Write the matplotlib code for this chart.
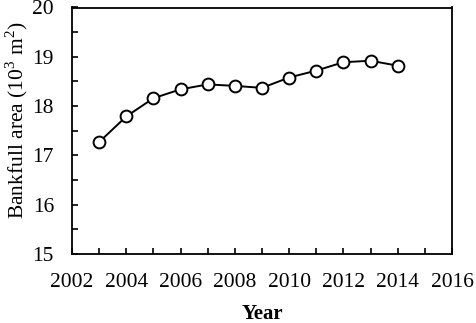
"""Bankfull area time series."""

import matplotlib

matplotlib.use("Agg")
import matplotlib.pyplot as plt
from matplotlib.ticker import MultipleLocator

YEARS = [2003, 2004, 2005, 2006, 2007, 2008, 2009, 2010, 2011, 2012, 2013, 2014]
AREA = [17.27, 17.79, 18.16, 18.34, 18.44, 18.41, 18.37, 18.58, 18.72, 18.89, 18.92, 18.82]
X_TICKS = [2002, 2004, 2006, 2008, 2010, 2012, 2014, 2016]
Y_TICKS = [15, 16, 17, 18, 19, 20]

plt.rcParams["font.family"] = ["Liberation Serif", "DejaVu Serif"]
plt.rcParams["mathtext.fontset"] = "custom"
plt.rcParams["mathtext.rm"] = "Liberation Serif"

fig = plt.figure(figsize=(4.77, 3.23), dpi=100)
ax = fig.add_axes([72 / 477, 1 - 254 / 323, 380 / 477, 246.5 / 323])

ax.plot(YEARS, AREA, color="black", linewidth=1.4, marker="o", markersize=8.5,
        markerfacecolor="white", markeredgecolor="black", markeredgewidth=1.4)

ax.set_xlim(2002, 2016)
ax.set_ylim(15, 20)
ax.set_xticks(X_TICKS)
ax.set_yticks(Y_TICKS)
ax.xaxis.set_minor_locator(MultipleLocator(1))
ax.yaxis.set_minor_locator(MultipleLocator(0.5))
ax.tick_params(which="both", direction="in", top=False, right=False, labelsize=15.5, width=1.2)
ax.tick_params(which="major", length=4)
ax.tick_params(which="minor", length=4)
ax.tick_params(axis="x", which="major", pad=14)
ax.tick_params(axis="y", which="major", pad=13)
for spine in ax.spines.values():
    spine.set_linewidth(1.3)

ax.set_xlabel("Year", fontsize=15, fontweight="bold", labelpad=8)
ax.set_ylabel("Bankfull area (10$^\\mathrm{3}$ m$^\\mathrm{2}$)", fontsize=15.5, labelpad=4)
ax.yaxis.set_label_coords(-42 / 380, 0.544)

fig.savefig("out.png", dpi=100)
